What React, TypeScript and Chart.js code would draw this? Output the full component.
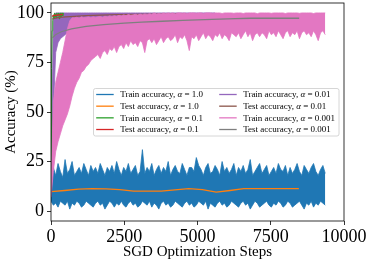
import React, { useEffect, useRef } from 'react';
import { Chart, registerables } from 'chart.js';

Chart.register(...registerables);

// ---------- data ----------
const TRAIN_STEP = 80; // steps between recorded training samples
const GREEN_STEP = 20;

const ALPHAS = ['1.0', '0.1', '0.01', '0.001'];
const TRAIN_COLORS = ['#1f77b4', '#2ca02c', '#9467bd', '#e377c2'];
const TEST_COLORS = ['#ff7f0e', '#d62728', '#8c564b', '#7f7f7f'];

const xTicks = [0, 2500, 5000, 7500, 10000];
const yTicks = [0, 25, 50, 75, 100];

// alpha = 1.0 train accuracy (band envelope)
const blueUpper = [
  19, 22, 18, 24, 20, 17, 26, 19, 21, 25, 18, 20, 22, 19, 24, 21, 18, 23, 20, 22,
  19, 24, 21, 18, 22, 20, 23, 19, 25, 21, 18, 22, 20, 24, 19, 21, 23, 18, 20, 31,
  19, 22, 20, 24, 18, 21, 23, 19, 22, 20, 25, 18, 21, 23, 20, 19, 24, 21, 18, 22,
  22, 20, 27, 23, 21, 18, 22, 24, 19, 20, 23, 21, 18, 25, 20, 22, 19, 21, 24, 18,
  22, 20, 23, 19, 21, 26, 18, 20, 22, 24, 19, 21, 23, 18, 20, 22, 19, 24, 21, 20,
  23, 18, 22, 19, 21, 24, 20, 18, 23, 21, 19, 22, 24, 20, 18, 21, 23, 19,
];
const blueLower = [
  5, 3, 4, 2, 5, 4, 3, 5, 1, 4, 3, 5, 4, 2, 3, 5, 4, 3, 2, 4,
  5, 3, 4, 1, 3, 5, 4, 2, 4, 3, 5, 3, 2, 4, 5, 3, 4, 2, 3, 5,
  4, 3, 5, 2, 4, 3, 1, 4, 5, 3, 4, 2, 3, 5, 4, 3, 2, 4, 5, 3,
  4, 2, 3, 5, 4, 3, 5, 1, 4, 3, 2, 4, 5, 3, 4, 2, 3, 5, 4, 3,
  2, 4, 5, 3, 4, 1, 3, 5, 4, 2, 3, 4, 5, 3, 2, 4, 3, 5, 4, 2,
  3, 5, 4, 2, 3, 4, 5, 3, 1, 4, 3, 5, 2, 4, 3, 5, 4, 3,
];

// alpha = 1.0 test accuracy
const orangeSteps = [0, 470, 940, 1410, 1880, 2350, 2820, 3290, 3760, 4230, 4700, 5170, 5640, 6110, 6580, 7050, 7520, 7990, 8460];
const orangeVals = [9.8, 10.4, 11.1, 11.3, 11.2, 10.8, 10.1, 10.1, 10.1, 10.7, 11.3, 10.8, 9.6, 10.4, 11.3, 11.3, 11.3, 11.3, 11.3];

// alpha = 0.1 train / test
const greenVals = [10, 72, 91, 96, 99, 97, 100, 98, 99.5, 97.5, 100, 98.5, 99, 100, 97, 99.5, 100, 98, 99, 100, 98.5, 100];
const redSteps = [40, 80, 120, 160, 200, 240, 280, 320, 360, 400];
const redVals = [98.2, 98.6, 98.9, 98.7, 99.0, 98.8, 99.1, 99.0, 99.2, 99.1];

// alpha = 0.01 train (band envelope) / test
const purpleUpper = [
  10, 97, 100, 100, 100, 100, 100, 100, 100, 100,
  100, 100, 100, 100, 100, 100, 100, 100, 100, 100,
  100, 100, 100, 100, 100, 100, 100, 100, 100, 100,
  100, 100, 100, 100, 100, 100, 100, 100, 100, 100,
  100, 100, 100, 100, 100, 100, 100, 100, 100, 100,
  100, 100, 100, 100, 100, 100, 100, 100, 100, 100,
  100, 100, 100, 100, 100, 100, 100, 100, 100, 100, 100,
];
const purpleLower = [
  10, 50, 80, 85, 87, 88, 89, 90, 90.5, 91,
  91.5, 92, 91, 92.5, 93, 92, 93.5, 93, 94, 93.5,
  94, 94.5, 93.5, 95, 94, 95.5, 94.5, 95, 96, 95,
  95.5, 96, 95, 96.5, 95.5, 96, 97, 96, 96.5, 97,
  96.5, 97, 97.5, 96.5, 97, 97.5, 98, 97, 97.5, 98,
  97.5, 98, 97, 98, 98.5, 97.5, 98, 98.5, 98, 97.5,
  98, 98.5, 98, 97.5, 98.5, 98, 98.5, 98, 97.5, 98.5, 98,
];
const brownSteps = [50, 150, 300, 500, 800, 1200, 1700, 2300, 3000, 3800, 4600];
const brownVals = [97.0, 97.4, 97.7, 98.0, 98.3, 98.6, 98.9, 99.1, 99.3, 99.4, 99.5];

// alpha = 0.001 train (band envelope) / test
const pinkUpper = [
  10, 55, 65, 70, 75, 80, 86, 92, 96, 97.5,
  97.5, 97.8, 97.4, 98, 97.6, 97.8, 98, 97.7, 98, 97.8,
  98, 98.2, 97.8, 98.3, 98, 98.5, 98.2, 98.6, 98.3, 98.8,
  98.5, 99, 98.6, 99.2, 98.8, 99, 99.3, 98.9, 99.4, 99.1,
  99.5, 99.2, 99.6, 99.3, 100, 99.4, 99.7, 99.5, 100, 99.6,
  100, 99.7, 100, 99.5, 100, 100, 99.8, 100, 99.6, 100,
  100, 100, 99.8, 100, 100, 99.7, 100, 100, 100, 99.8,
  100, 100, 100, 99.7, 100, 100, 100, 100, 99.8, 100,
  100, 100, 99.7, 100, 100, 100, 100, 100, 99.6, 100,
  100, 100, 100, 100, 99.8, 100, 100, 100, 100, 100,
  99.7, 100, 100, 100, 100, 100, 99.8, 100, 100, 100,
  100, 100, 99.7, 100, 100, 100, 100, 100,
];
const pinkLower = [
  7, 20, 30, 35, 39, 43, 46, 49, 53, 58,
  62, 65, 67, 70, 71, 73, 74, 76, 77, 78,
  79, 77, 80, 81, 79, 82, 81, 83, 80, 83,
  84, 82, 85, 83, 86, 84, 85, 83, 86, 85,
  80, 86, 87, 85, 87, 84, 86, 88, 85, 87,
  88, 86, 87, 89, 85, 88, 87, 89, 86, 81,
  88, 87, 89, 86, 88, 90, 87, 89, 88, 86,
  89, 88, 90, 87, 89, 88, 86, 90, 89, 88,
  90, 87, 89, 91, 88, 90, 86, 89, 90, 88,
  90, 89, 87, 91, 89, 90, 88, 91, 89, 87,
  90, 91, 88, 90, 89, 91, 87, 90, 91, 89,
  90, 88, 91, 89, 86, 90, 91, 89,
];
const graySteps = [50, 150, 350, 700, 1200, 1800, 2500, 3100, 3800, 4500, 5500, 6300, 6800, 8470];
const grayVals = [87.5, 89, 90.5, 92, 93.2, 94.1, 94.8, 95.3, 95.8, 96.2, 96.7, 97.1, 97.3, 97.3];

// ---------- helpers ----------
const FONT = "'Liberation Serif', 'Times New Roman', serif";
const even = (vals: number[], step: number) => vals.map((y, i) => ({ x: i * step, y }));
const paired = (steps: number[], vals: number[]) => steps.map((x, i) => ({ x, y: vals[i] }));

const trainLabel = (i: number) => ['Train accuracy, ', 'α', ' = ' + ALPHAS[i]];
const testLabel = (i: number) => ['Test accuracy, ', 'α', ' = ' + ALPHAS[i]];

const legendPlugin = {
  id: 'mplLegend',
  afterDraw(chart: any) {
    const { ctx, chartArea: ca } = chart;
    const bx = ca.left + 42.5;
    const by = ca.top + 85.5;
    const bw = ca.right - 5 - bx;
    const bh = 47.5;
    ctx.save();
    ctx.beginPath();
    const r = 2;
    ctx.moveTo(bx + r, by);
    ctx.lineTo(bx + bw - r, by);
    ctx.quadraticCurveTo(bx + bw, by, bx + bw, by + r);
    ctx.lineTo(bx + bw, by + bh - r);
    ctx.quadraticCurveTo(bx + bw, by + bh, bx + bw - r, by + bh);
    ctx.lineTo(bx + r, by + bh);
    ctx.quadraticCurveTo(bx, by + bh, bx, by + bh - r);
    ctx.lineTo(bx, by + r);
    ctx.quadraticCurveTo(bx, by, bx + r, by);
    ctx.closePath();
    ctx.fillStyle = 'rgba(255,255,255,0.8)';
    ctx.fill();
    ctx.strokeStyle = '#cccccc';
    ctx.lineWidth = 0.8;
    ctx.stroke();

    const entries: { parts: string[]; color: string }[] = [];
    ALPHAS.forEach((_, i) => {
      entries.push({ parts: trainLabel(i), color: TRAIN_COLORS[i] });
      entries.push({ parts: testLabel(i), color: TEST_COLORS[i] });
    });
    entries.forEach((e, k) => {
      const col = Math.floor(k / 4);
      const row = k % 4;
      const lx = bx + 2.7 + col * 123;
      const y = by + 6 + row * 11.67;
      ctx.beginPath();
      ctx.moveTo(lx, y);
      ctx.lineTo(lx + 17.5, y);
      ctx.strokeStyle = e.color;
      ctx.lineWidth = 1.3;
      ctx.stroke();
      let tx = lx + 24;
      ctx.fillStyle = '#000';
      ctx.textBaseline = 'middle';
      e.parts.forEach((p, j) => {
        ctx.font = (j === 1 ? 'italic ' : '') + '9px ' + FONT;
        ctx.fillText(p, tx, y + 0.5);
        tx += ctx.measureText(p).width;
      });
    });
    ctx.restore();
  },
};

const framePlugin = {
  id: 'frame',
  afterDraw(chart: any) {
    const { ctx, chartArea: ca } = chart;
    ctx.save();
    ctx.strokeStyle = '#000';
    ctx.lineWidth = 0.8;
    ctx.strokeRect(ca.left, ca.top, ca.right - ca.left, ca.bottom - ca.top);
    ctx.restore();
  },
};

export default function App() {
  const ref = useRef<HTMLCanvasElement>(null);

  useEffect(() => {
    document.body.style.margin = '0';
    const canvas = ref.current;
    if (!canvas) return;

    const line = (data: any[], color: string, order: number, width: number, fill: any = false) => ({
      data,
      borderColor: color,
      backgroundColor: color,
      borderWidth: width,
      pointRadius: 0,
      tension: 0,
      fill,
      order,
    });

    const datasets = [
      line(even(blueUpper, TRAIN_STEP), TRAIN_COLORS[0], 8, 0.8, '+1'),
      line(even(blueLower, TRAIN_STEP), TRAIN_COLORS[0], 8, 0.8),
      line(paired(orangeSteps, orangeVals), TEST_COLORS[0], 7, 1.3),
      line(even(purpleUpper, TRAIN_STEP), TRAIN_COLORS[2], 6, 0.8, '+1'),
      line(even(purpleLower, TRAIN_STEP), TRAIN_COLORS[2], 6, 0.8),
      line(even(greenVals, GREEN_STEP), TRAIN_COLORS[1], 5, 1),
      line(paired(redSteps, redVals), TEST_COLORS[1], 4, 1.3),
      line(paired(brownSteps, brownVals), TEST_COLORS[2], 3, 1.3),
      line(even(pinkUpper, TRAIN_STEP), TRAIN_COLORS[3], 2, 0.8, '+1'),
      line(even(pinkLower, TRAIN_STEP), TRAIN_COLORS[3], 2, 0.8),
      line(paired(graySteps, grayVals), TEST_COLORS[3], 1, 1.3),
    ];

    const tickFont = { family: FONT, size: 18 };
    const titleFont = { family: FONT, size: 15 };

    const chart = new Chart(canvas, {
      type: 'line',
      data: { datasets },
      options: {
        animation: false,
        responsive: false,
        devicePixelRatio: 1,
        layout: { padding: { left: 0, top: 3, right: 22, bottom: 0 } },
        plugins: { legend: { display: false }, tooltip: { enabled: false } },
        scales: {
          x: {
            type: 'linear',
            min: 0,
            max: 10000,
            afterBuildTicks: (s: any) => { s.ticks = xTicks.map((v) => ({ value: v })); },
            afterFit: (s: any) => { s.height = 40; s.paddingLeft = 0; s.paddingRight = 0; },
            ticks: { font: tickFont, color: '#000', maxRotation: 0, autoSkip: false, padding: 1, callback: (v: any) => String(v) },
            grid: { display: true, drawOnChartArea: false, drawTicks: true, tickLength: 4, color: '#000', lineWidth: 0.8 },
            border: { display: false },
            title: { display: true, text: 'SGD Optimization Steps', font: titleFont, color: '#000', padding: { top: 0, bottom: 0 } },
          },
          y: {
            type: 'linear',
            min: -5,
            max: 105,
            afterBuildTicks: (s: any) => { s.ticks = yTicks.map((v) => ({ value: v })); },
            afterFit: (s: any) => { s.width = 51; s.paddingTop = 0; s.paddingBottom = 0; },
            ticks: { font: tickFont, color: '#000', autoSkip: false, padding: 3, callback: (v: any) => String(v) },
            grid: { display: true, drawOnChartArea: false, drawTicks: true, tickLength: 4, color: '#000', lineWidth: 0.8 },
            border: { display: false },
            title: { display: true, text: 'Accuracy (%)', font: titleFont, color: '#000', padding: { top: 2, bottom: 0 } },
          },
        },
      },
      plugins: [legendPlugin, framePlugin],
    } as any);

    return () => chart.destroy();
  }, []);

  return (
    <div style={{ width: 366, height: 261 }}>
      <canvas ref={ref} width={366} height={261} style={{ display: 'block', width: 366, height: 261 }} />
    </div>
  );
}
